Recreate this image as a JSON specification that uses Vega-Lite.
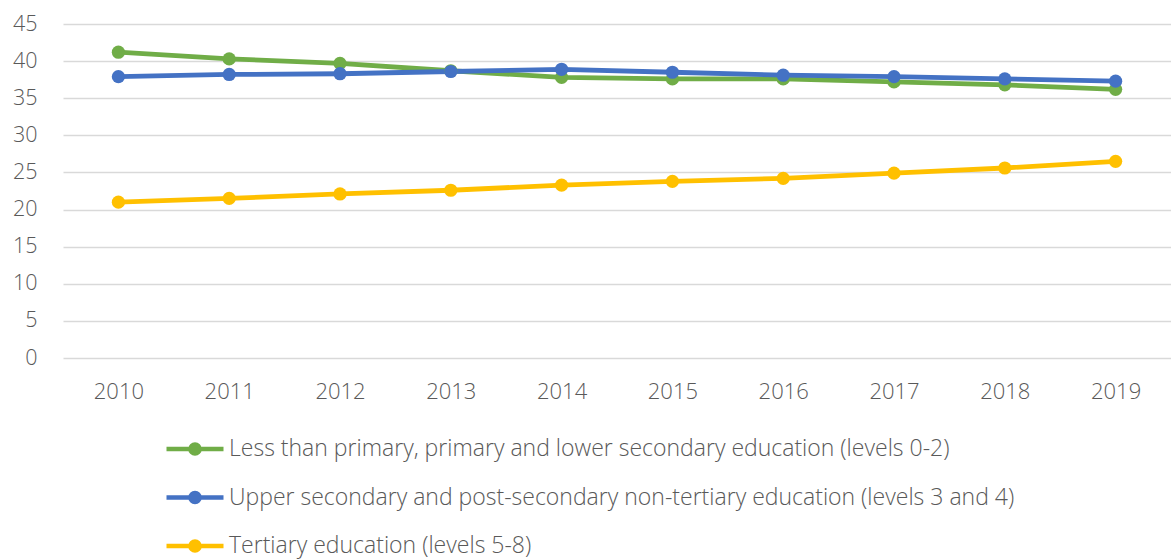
{
  "$schema": "https://vega.github.io/schema/vega-lite/v6.json",
  "width": 1108,
  "height": 334,
  "autosize": {"type": "none"},
  "padding": {"left": 63, "top": 24, "right": 0, "bottom": 201},
  "background": "white",
  "config": {
    "view": {"stroke": null},
    "font": "Open Sans"
  },
  "data": {
    "values": [
      {"year": "2010", "edu": "Less than primary, primary and lower secondary education (levels 0-2)", "v": 41.2},
      {"year": "2011", "edu": "Less than primary, primary and lower secondary education (levels 0-2)", "v": 40.3},
      {"year": "2012", "edu": "Less than primary, primary and lower secondary education (levels 0-2)", "v": 39.7},
      {"year": "2013", "edu": "Less than primary, primary and lower secondary education (levels 0-2)", "v": 38.7},
      {"year": "2014", "edu": "Less than primary, primary and lower secondary education (levels 0-2)", "v": 37.8},
      {"year": "2015", "edu": "Less than primary, primary and lower secondary education (levels 0-2)", "v": 37.6},
      {"year": "2016", "edu": "Less than primary, primary and lower secondary education (levels 0-2)", "v": 37.6},
      {"year": "2017", "edu": "Less than primary, primary and lower secondary education (levels 0-2)", "v": 37.2},
      {"year": "2018", "edu": "Less than primary, primary and lower secondary education (levels 0-2)", "v": 36.8},
      {"year": "2019", "edu": "Less than primary, primary and lower secondary education (levels 0-2)", "v": 36.2},
      {"year": "2010", "edu": "Upper secondary and post-secondary non-tertiary education (levels 3 and 4)", "v": 37.9},
      {"year": "2011", "edu": "Upper secondary and post-secondary non-tertiary education (levels 3 and 4)", "v": 38.2},
      {"year": "2012", "edu": "Upper secondary and post-secondary non-tertiary education (levels 3 and 4)", "v": 38.3},
      {"year": "2013", "edu": "Upper secondary and post-secondary non-tertiary education (levels 3 and 4)", "v": 38.6},
      {"year": "2014", "edu": "Upper secondary and post-secondary non-tertiary education (levels 3 and 4)", "v": 38.9},
      {"year": "2015", "edu": "Upper secondary and post-secondary non-tertiary education (levels 3 and 4)", "v": 38.5},
      {"year": "2016", "edu": "Upper secondary and post-secondary non-tertiary education (levels 3 and 4)", "v": 38.1},
      {"year": "2017", "edu": "Upper secondary and post-secondary non-tertiary education (levels 3 and 4)", "v": 37.9},
      {"year": "2018", "edu": "Upper secondary and post-secondary non-tertiary education (levels 3 and 4)", "v": 37.6},
      {"year": "2019", "edu": "Upper secondary and post-secondary non-tertiary education (levels 3 and 4)", "v": 37.3},
      {"year": "2010", "edu": "Tertiary education (levels 5-8)", "v": 21.0},
      {"year": "2011", "edu": "Tertiary education (levels 5-8)", "v": 21.5},
      {"year": "2012", "edu": "Tertiary education (levels 5-8)", "v": 22.1},
      {"year": "2013", "edu": "Tertiary education (levels 5-8)", "v": 22.6},
      {"year": "2014", "edu": "Tertiary education (levels 5-8)", "v": 23.3},
      {"year": "2015", "edu": "Tertiary education (levels 5-8)", "v": 23.8},
      {"year": "2016", "edu": "Tertiary education (levels 5-8)", "v": 24.2},
      {"year": "2017", "edu": "Tertiary education (levels 5-8)", "v": 24.9},
      {"year": "2018", "edu": "Tertiary education (levels 5-8)", "v": 25.6},
      {"year": "2019", "edu": "Tertiary education (levels 5-8)", "v": 26.5}
    ]
  },
  "mark": {"type": "line", "strokeWidth": 4.8, "point": {"filled": true, "size": 175, "opacity": 1}},
  "encoding": {
    "x": {
      "field": "year", "type": "ordinal",
      "scale": {"type": "point", "padding": 0.5},
      "axis": {
        "title": null, "domain": false, "ticks": false, "grid": false,
        "labelAngle": 0, "labelFontSize": 22, "labelColor": "#595959",
        "labelPadding": 23, "labelFontWeight": 300
      }
    },
    "y": {
      "field": "v", "type": "quantitative",
      "scale": {"domain": [0, 45], "nice": false},
      "axis": {
        "title": null, "domain": false, "ticks": false,
        "values": [0, 5, 10, 15, 20, 25, 30, 35, 40, 45],
        "gridColor": "#d9d9d9", "gridWidth": 1.3,
        "labelFontSize": 21.5, "labelColor": "#595959", "labelPadding": 26,
        "labelFontWeight": 300
      }
    },
    "color": {
      "field": "edu", "type": "nominal",
      "sort": [
        "Less than primary, primary and lower secondary education (levels 0-2)",
        "Upper secondary and post-secondary non-tertiary education (levels 3 and 4)",
        "Tertiary education (levels 5-8)"
      ],
      "scale": {
        "domain": [
          "Less than primary, primary and lower secondary education (levels 0-2)",
          "Upper secondary and post-secondary non-tertiary education (levels 3 and 4)",
          "Tertiary education (levels 5-8)"
        ],
        "range": ["#70AD47", "#4472C4", "#FFC000"]
      },
      "legend": {
        "title": null,
        "orient": "none",
        "legendX": 101,
        "legendY": 394,
        "direction": "vertical",
        "symbolType": "M-1,0H1M0.16,0A0.16,0.16,0,1,1,-0.16,0A0.16,0.16,0,1,1,0.16,0Z",
        "symbolSize": 3249,
        "symbolStrokeWidth": 4.5,
        "labelFontSize": 23,
        "labelColor": "#595959",
        "labelFontWeight": 300,
        "labelLimit": 1000,
        "labelOffset": 3,
        "rowPadding": 3.5,
        "padding": 0,
        "encode": {
          "symbols": {
            "update": {
              "fill": {"scale": "color", "field": "value"},
              "stroke": {"scale": "color", "field": "value"},
              "strokeWidth": {"value": 4.5},
              "opacity": {"value": 1}
            }
          }
        }
      }
    }
  }
}
